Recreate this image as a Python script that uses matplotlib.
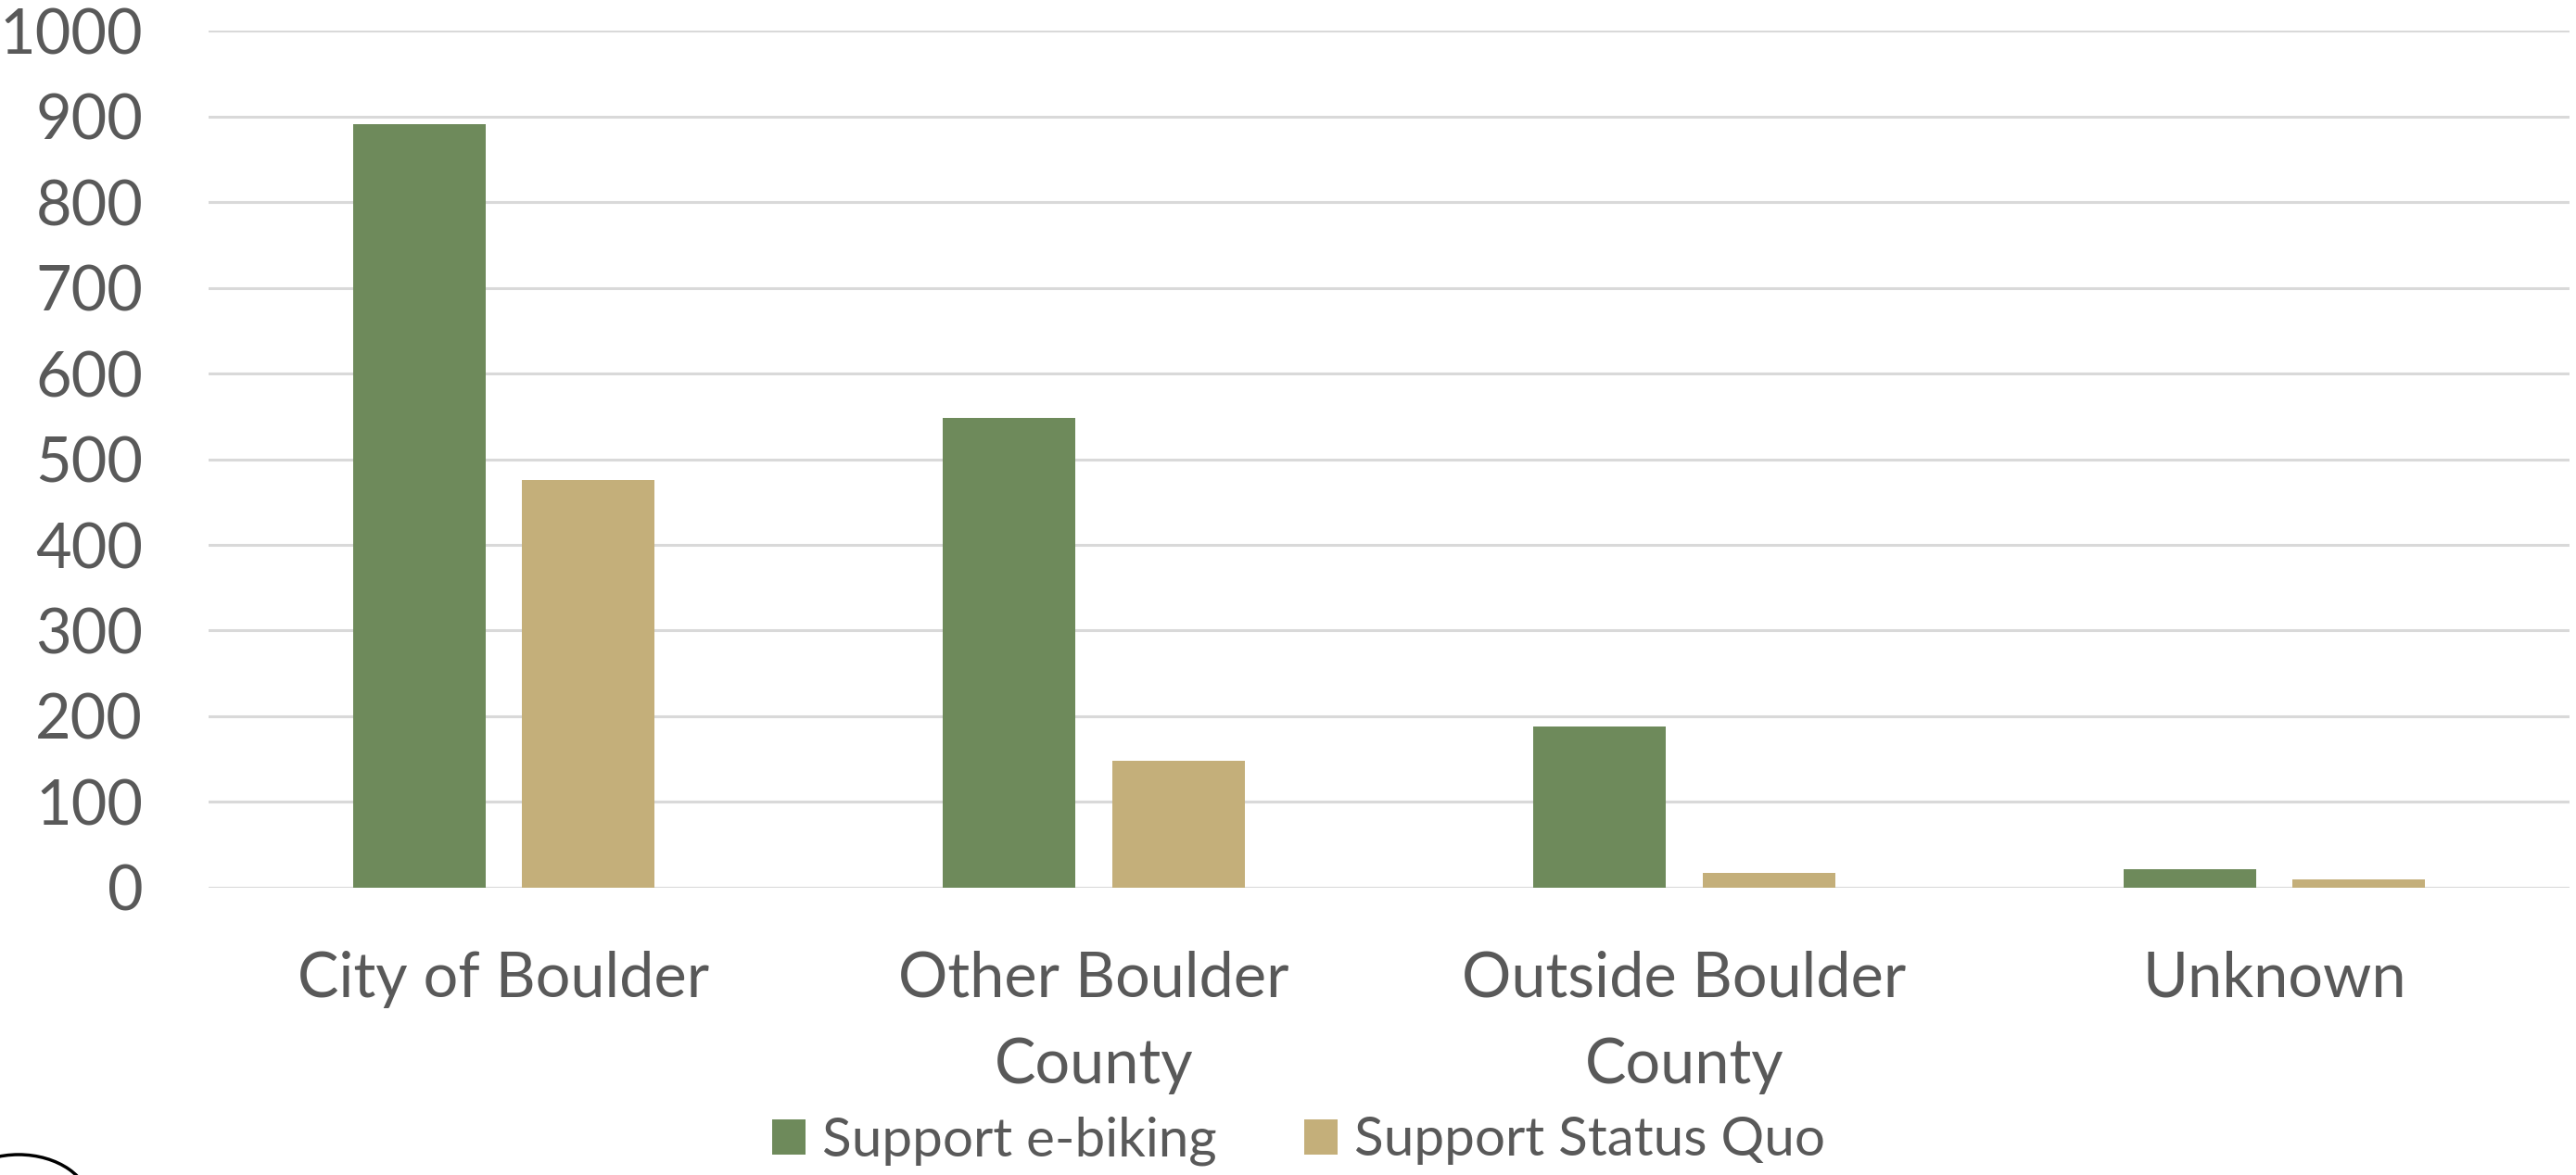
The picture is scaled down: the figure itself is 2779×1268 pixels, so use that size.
import matplotlib
matplotlib.use("Agg")
import matplotlib.pyplot as plt
from matplotlib.patches import Patch, Arc
import numpy as np

# Survey responses by residence
categories = ["City of Boulder", "Other Boulder\nCounty", "Outside Boulder\nCounty", "Unknown"]
support_ebiking = [891, 548, 188, 21]
support_status_quo = [476, 148, 17, 10]
series_names = ["Support e-biking", "Support Status Quo"]
y_ticks = [0, 100, 200, 300, 400, 500, 600, 700, 800, 900, 1000]

GREEN = "#6E8A5B"
TAN = "#C4AF7A"
TEXT = "#595959"
GRID = "#D9D9D9"

plt.rcParams["font.family"] = ["Lato", "DejaVu Sans"]

W, H = 2779, 1268
DPI = 100
fig = plt.figure(figsize=(W / DPI, H / DPI), dpi=DPI)
fig.patch.set_facecolor("white")

left, right = 225 / W, 2772 / W
bottom, top = 1 - 957.9 / H, 1 - 33.2 / H
ax = fig.add_axes([left, bottom, right - left, top - bottom])

x = np.arange(len(categories))
bw = 0.2245
off = bw / 2 + 0.031
ax.bar(x - off, support_ebiking, width=bw, color=GREEN, zorder=3)
ax.bar(x + off, support_status_quo, width=bw, color=TAN, zorder=3)

ax.set_xlim(-0.5, len(categories) - 0.5)
ax.set_ylim(0, 1000)
ax.set_yticks(y_ticks)
ax.set_yticklabels([str(v) for v in y_ticks])
ax.set_xticks(x)
ax.set_xticklabels(categories, linespacing=1.62)

ax.grid(axis="y", color=GRID, linewidth=2.2, zorder=0)
ax.set_axisbelow(True)
for s in ax.spines.values():
    s.set_visible(False)
ax.tick_params(axis="both", length=0, colors=TEXT, labelsize=48)
ax.tick_params(axis="y", pad=51)
ax.tick_params(axis="x", pad=49)

handles = [Patch(facecolor=GREEN, edgecolor="none"), Patch(facecolor=TAN, edgecolor="none")]
fig.legend(handles, series_names, loc="center",
           bbox_to_anchor=(1401 / W, 1 - 1231 / H),
           ncol=2, frameon=False, fontsize=42, labelcolor=TEXT,
           handlelength=0.62, handleheight=0.62, handletextpad=0.31,
           columnspacing=1.62, borderpad=0, borderaxespad=0)

# Partial emblem in the lower-left corner
emblem = Arc((20 / W, 1 - 1300 / H), 154 / W, 108 / H, theta1=0, theta2=180,
             transform=fig.transFigure, color="black", linewidth=2.5, clip_on=False)
fig.add_artist(emblem)

fig.savefig("out.png", dpi=DPI, facecolor="white")
